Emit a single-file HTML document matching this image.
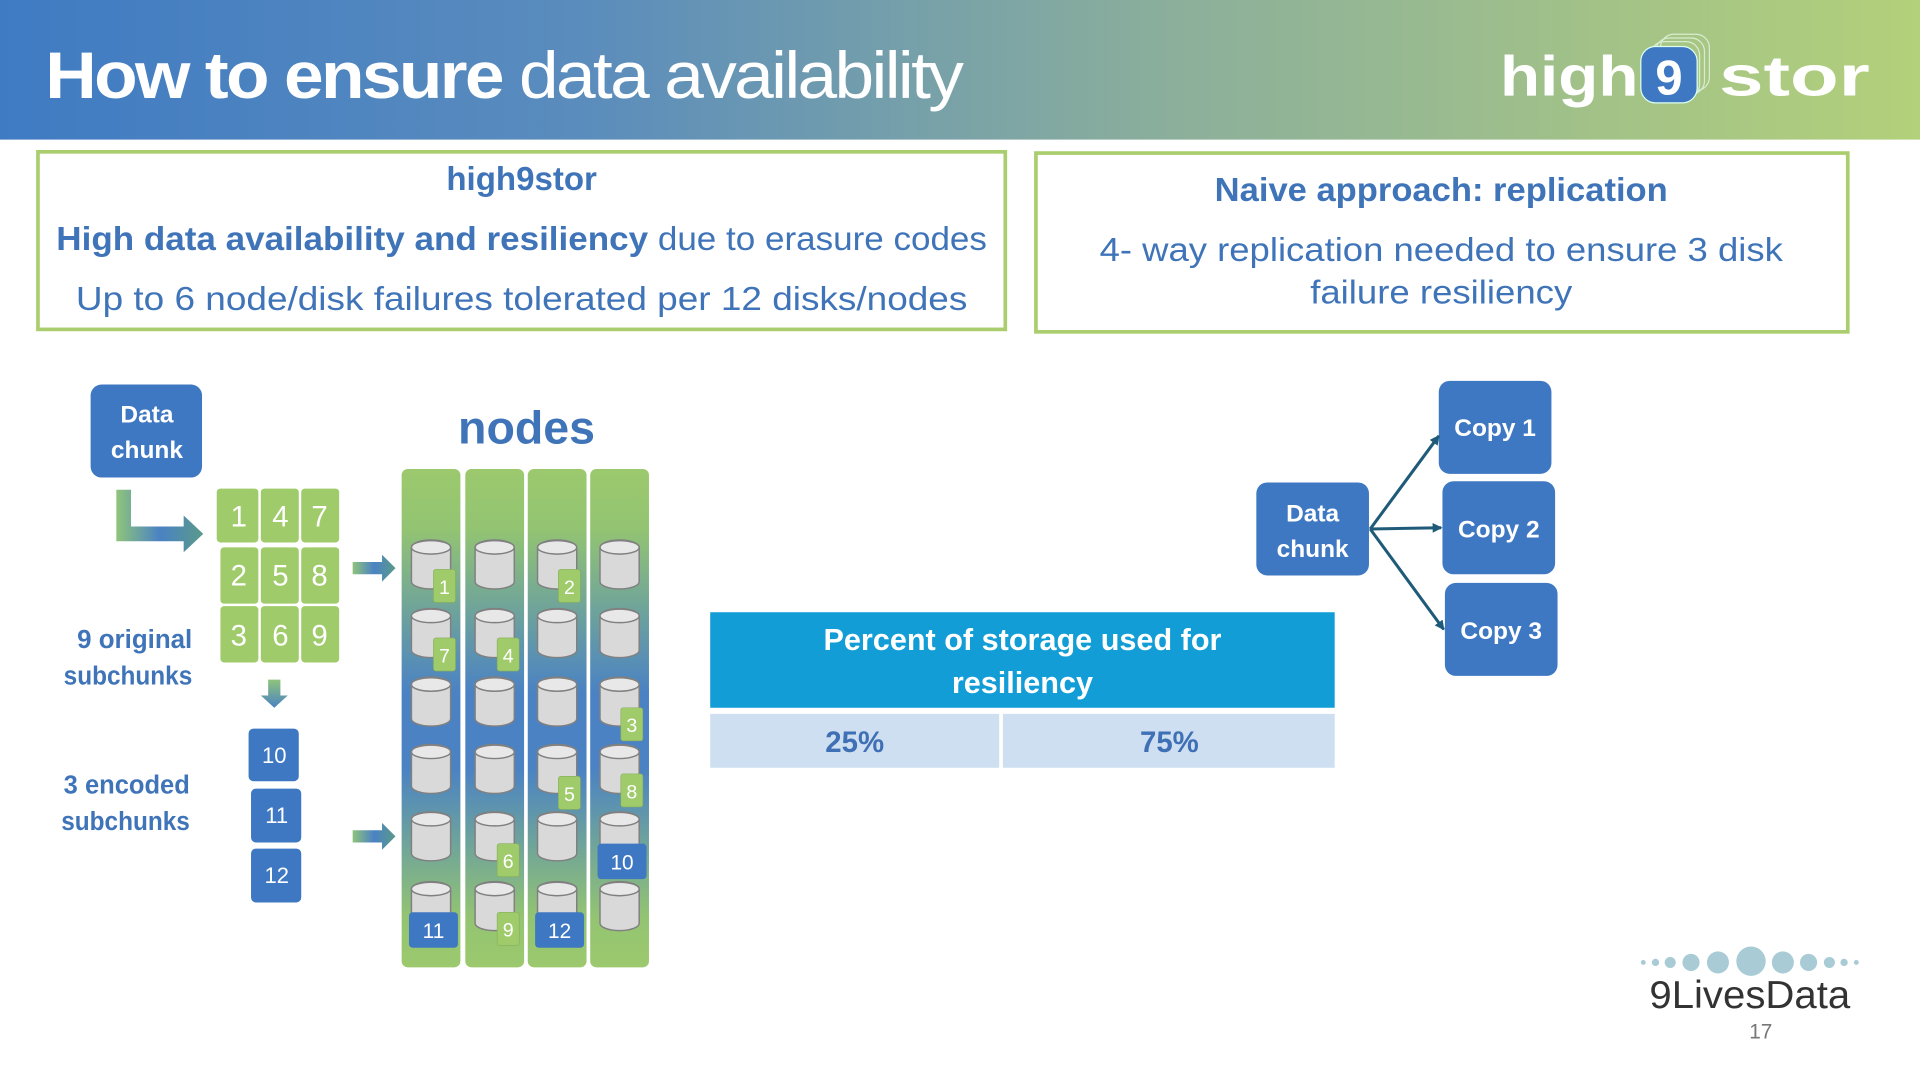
<!DOCTYPE html>
<html><head><meta charset="utf-8"><style>
html,body{margin:0;padding:0;background:#fff;overflow:hidden}
svg{display:block}
text{font-family:"Liberation Sans",sans-serif}
</style></head><body>
<svg width="1920" height="1080" viewBox="0 0 1568 882" xmlns="http://www.w3.org/2000/svg">
<defs>
<linearGradient id="hdr" x1="0" x2="1" y1="0" y2="0">
<stop offset="0" stop-color="#3f7bc3"/><stop offset="0.3" stop-color="#5a8cbd"/><stop offset="0.6" stop-color="#8aae9c"/><stop offset="1" stop-color="#b3d07a"/></linearGradient>
<linearGradient id="col" x1="0" x2="0" y1="0" y2="1">
<stop offset="0" stop-color="#9cc96d"/><stop offset="0.12" stop-color="#93c472"/><stop offset="0.45" stop-color="#4a82c4"/><stop offset="0.6" stop-color="#4a82c4"/><stop offset="0.9" stop-color="#93c472"/><stop offset="1" stop-color="#9cc96d"/></linearGradient>
<linearGradient id="arr" x1="0" x2="1"><stop offset="0" stop-color="#8fc47a"/><stop offset="0.5" stop-color="#4a82c4"/><stop offset="1" stop-color="#5a9a8a"/></linearGradient>
<linearGradient id="arrv" x1="0" x2="0" y1="0" y2="1"><stop offset="0" stop-color="#8fc47a"/><stop offset="1" stop-color="#4a82c4"/></linearGradient>
<g id="cyl"><path d="M1,6 L1,34 A16,6 0 0 0 33,34 L33,6 A16,6 0 0 0 1,6Z" fill="#d9d9d9" stroke="#808080" stroke-width="1.2"/><ellipse cx="17" cy="6" rx="16" ry="5.5" fill="#e8e8e8" stroke="#808080" stroke-width="1.2"/></g>
<marker id="ah" markerWidth="8" markerHeight="8" refX="7" refY="4" orient="auto" markerUnits="userSpaceOnUse"><path d="M0,0 L8,4 L0,8Z" fill="#1f5b78"/></marker>
</defs>
<rect x="0" y="0" width="1568" height="114" fill="url(#hdr)"/>
<text x="37" y="80" fill="#fff" font-size="54" letter-spacing="-2" textLength="748" lengthAdjust="spacingAndGlyphs"><tspan font-weight="bold">How to ensure</tspan> data availability</text>
<text x="1225" y="78" fill="#fff" font-size="46" font-weight="bold" textLength="113" lengthAdjust="spacingAndGlyphs">high</text>
<g fill="none" stroke="#d8ecd0" stroke-width="1"><rect x="1356" y="28" width="40" height="46" rx="11"/><rect x="1352" y="31" width="40" height="46" rx="11"/><rect x="1348" y="34" width="40" height="46" rx="11"/></g>
<rect x="1340" y="38" width="46" height="46" rx="12" fill="#3f78c2" stroke="#dfe" stroke-width="1"/>
<text x="1363" y="77" fill="#fff" font-size="40" font-weight="bold" text-anchor="middle">9</text>
<text x="1404" y="78" fill="#fff" font-size="46" font-weight="bold" textLength="123" lengthAdjust="spacingAndGlyphs">stor</text>

<rect x="31" y="124" width="790" height="145" fill="#fff" stroke="#aacd6e" stroke-width="3"/>
<g fill="#3f74b9" text-anchor="middle" font-size="27">
<text x="426" y="155" font-weight="bold">high9stor</text>
<text x="426" y="204" textLength="760" lengthAdjust="spacingAndGlyphs"><tspan font-weight="bold">High data availability and resiliency</tspan> due to erasure codes</text>
<text x="426" y="253" textLength="728" lengthAdjust="spacingAndGlyphs">Up to 6 node/disk failures tolerated per 12 disks/nodes</text>
</g>
<rect x="846" y="125" width="663" height="146" fill="#fff" stroke="#aacd6e" stroke-width="3"/>
<g fill="#3f74b9" text-anchor="middle" font-size="27">
<text x="1177" y="164" font-weight="bold" textLength="370" lengthAdjust="spacingAndGlyphs">Naive approach: replication</text>
<text x="1177" y="213" textLength="558" lengthAdjust="spacingAndGlyphs">4- way replication needed to ensure 3 disk</text>
<text x="1177" y="248" textLength="214" lengthAdjust="spacingAndGlyphs">failure resiliency</text>
</g>

<rect x="74" y="314" width="91" height="76" rx="9" fill="#3f78c2"/>
<g fill="#fff" font-size="20" font-weight="bold" text-anchor="middle"><text x="120" y="345">Data</text><text x="120" y="374">chunk</text></g>
<path d="M95,400 H107 V430 H150 V421 L166,436 L150,451 V442 H95Z" fill="url(#arr)"/>
<g fill="#9fcb6b">
<rect x="177" y="399" width="34" height="44" rx="3"/><rect x="213" y="399" width="31" height="44" rx="3"/><rect x="246" y="399" width="31" height="44" rx="3"/>
<rect x="180" y="447" width="31" height="46" rx="3"/><rect x="213" y="447" width="31" height="46" rx="3"/><rect x="246" y="447" width="31" height="46" rx="3"/>
<rect x="180" y="495" width="31" height="46" rx="3"/><rect x="213" y="495" width="31" height="46" rx="3"/><rect x="246" y="495" width="31" height="46" rx="3"/>
</g>
<g fill="#fff" font-size="24" text-anchor="middle">
<text x="195" y="430">1</text><text x="229" y="430">4</text><text x="261" y="430">7</text>
<text x="195" y="478">2</text><text x="229" y="478">5</text><text x="261" y="478">8</text>
<text x="195" y="527">3</text><text x="229" y="527">6</text><text x="261" y="527">9</text>
</g>
<path d="M219,555 H229 V568 H235 L224,578 L213,568 H219Z" fill="url(#arrv)"/>
<g fill="#3f78c2"><rect x="203" y="595" width="41" height="43" rx="4"/><rect x="205" y="644" width="41" height="44" rx="4"/><rect x="205" y="693" width="41" height="44" rx="4"/></g>
<g fill="#fff" font-size="18" text-anchor="middle"><text x="224" y="623">10</text><text x="226" y="672">11</text><text x="226" y="721">12</text></g>
<g fill="#3f74b9" font-size="21" font-weight="bold" text-anchor="end">
<text x="157" y="529" textLength="94" lengthAdjust="spacingAndGlyphs">9 original</text><text x="157" y="559" textLength="105" lengthAdjust="spacingAndGlyphs">subchunks</text>
<text x="155" y="648" textLength="103" lengthAdjust="spacingAndGlyphs">3 encoded</text><text x="155" y="678" textLength="105" lengthAdjust="spacingAndGlyphs">subchunks</text></g>
<path d="M288,459 H312 V453 L323,464 L312,475 V469 H288Z" fill="url(#arr)"/>
<path d="M288,678 H312 V672 L323,683 L312,694 V688 H288Z" fill="url(#arr)"/>

<text x="430" y="362" fill="#3f74b9" font-size="38" font-weight="bold" text-anchor="middle">nodes</text>
<g fill="url(#col)"><rect x="328" y="383" width="48" height="407" rx="5"/><rect x="380" y="383" width="48" height="407" rx="5"/><rect x="431" y="383" width="48" height="407" rx="5"/><rect x="482" y="383" width="48" height="407" rx="5"/></g>
<g>
<use href="#cyl" x="335" y="441"/><use href="#cyl" x="387" y="441"/><use href="#cyl" x="438" y="441"/><use href="#cyl" x="489" y="441"/>
<use href="#cyl" x="335" y="497"/><use href="#cyl" x="387" y="497"/><use href="#cyl" x="438" y="497"/><use href="#cyl" x="489" y="497"/>
<use href="#cyl" x="335" y="553"/><use href="#cyl" x="387" y="553"/><use href="#cyl" x="438" y="553"/><use href="#cyl" x="489" y="553"/>
<use href="#cyl" x="335" y="608"/><use href="#cyl" x="387" y="608"/><use href="#cyl" x="438" y="608"/><use href="#cyl" x="489" y="608"/>
<use href="#cyl" x="335" y="663"/><use href="#cyl" x="387" y="663"/><use href="#cyl" x="438" y="663"/><use href="#cyl" x="489" y="663"/>
<use href="#cyl" x="335" y="720"/><use href="#cyl" x="387" y="720"/><use href="#cyl" x="438" y="720"/><use href="#cyl" x="489" y="720"/>
</g>
<g fill="#9fcb6b" stroke="#86ad5a" stroke-width="0.5">
<rect x="354" y="465" width="18" height="27" rx="2"/><rect x="456" y="465" width="18" height="27" rx="2"/>
<rect x="354" y="521" width="18" height="27" rx="2"/><rect x="406" y="521" width="18" height="27" rx="2"/>
<rect x="507" y="578" width="18" height="27" rx="2"/>
<rect x="456" y="634" width="18" height="27" rx="2"/><rect x="507" y="632" width="18" height="27" rx="2"/>
<rect x="406" y="689" width="18" height="27" rx="2"/><rect x="406" y="745" width="18" height="27" rx="2"/>
</g>
<g fill="#3f78c2"><rect x="488" y="689" width="40" height="29" rx="3"/><rect x="334" y="745" width="40" height="29" rx="3"/><rect x="437" y="745" width="40" height="29" rx="3"/></g>
<g fill="#fff" font-size="16" text-anchor="middle">
<text x="363" y="485">1</text><text x="465" y="485">2</text><text x="363" y="541">7</text><text x="415" y="541">4</text>
<text x="516" y="598">3</text><text x="465" y="654">5</text><text x="516" y="652">8</text><text x="415" y="709">6</text><text x="415" y="765">9</text>
<text x="508" y="710" font-size="17">10</text><text x="354" y="766" font-size="17">11</text><text x="457" y="766" font-size="17">12</text>
</g>

<rect x="580" y="500" width="510" height="78" fill="#129dd6"/>
<g fill="#fff" font-size="25" font-weight="bold" text-anchor="middle"><text x="835" y="531">Percent of storage used for</text><text x="835" y="566">resiliency</text></g>
<rect x="580" y="583" width="236" height="44" fill="#cddff0"/><rect x="819" y="583" width="271" height="44" fill="#cddff0"/>
<g fill="#3f6fb4" font-size="24" font-weight="bold" text-anchor="middle"><text x="698" y="614">25%</text><text x="955" y="614">75%</text></g>

<g fill="#3f78c2"><rect x="1026" y="394" width="92" height="76" rx="9"/><rect x="1175" y="311" width="92" height="76" rx="9"/><rect x="1178" y="393" width="92" height="76" rx="9"/><rect x="1180" y="476" width="92" height="76" rx="9"/></g>
<g fill="#fff" font-size="20" font-weight="bold" text-anchor="middle">
<text x="1072" y="426">Data</text><text x="1072" y="455">chunk</text>
<text x="1221" y="356">Copy 1</text><text x="1224" y="439">Copy 2</text><text x="1226" y="522">Copy 3</text></g>
<g stroke="#1f5b78" stroke-width="2.5" fill="none">
<line x1="1119" y1="432" x2="1175" y2="356" marker-end="url(#ah)"/>
<line x1="1119" y1="432" x2="1177" y2="431" marker-end="url(#ah)"/>
<line x1="1119" y1="432" x2="1179" y2="514" marker-end="url(#ah)"/>
</g>

<g fill="#a8cbd6">
<circle cx="1342" cy="786" r="2"/><circle cx="1352" cy="786" r="3"/><circle cx="1364" cy="786" r="4.5"/><circle cx="1381" cy="786" r="7"/><circle cx="1403" cy="786" r="9"/><circle cx="1430" cy="785" r="12"/><circle cx="1456" cy="786" r="9"/><circle cx="1477" cy="786" r="7"/><circle cx="1494" cy="786" r="4.5"/><circle cx="1506" cy="786" r="3"/><circle cx="1516" cy="786" r="2"/></g>
<text x="1429" y="823" fill="#333" font-size="32" text-anchor="middle" textLength="164" lengthAdjust="spacingAndGlyphs">9LivesData</text>
<text x="1438" y="848" fill="#777" font-size="17" text-anchor="middle">17</text>
</svg>
</body></html>
